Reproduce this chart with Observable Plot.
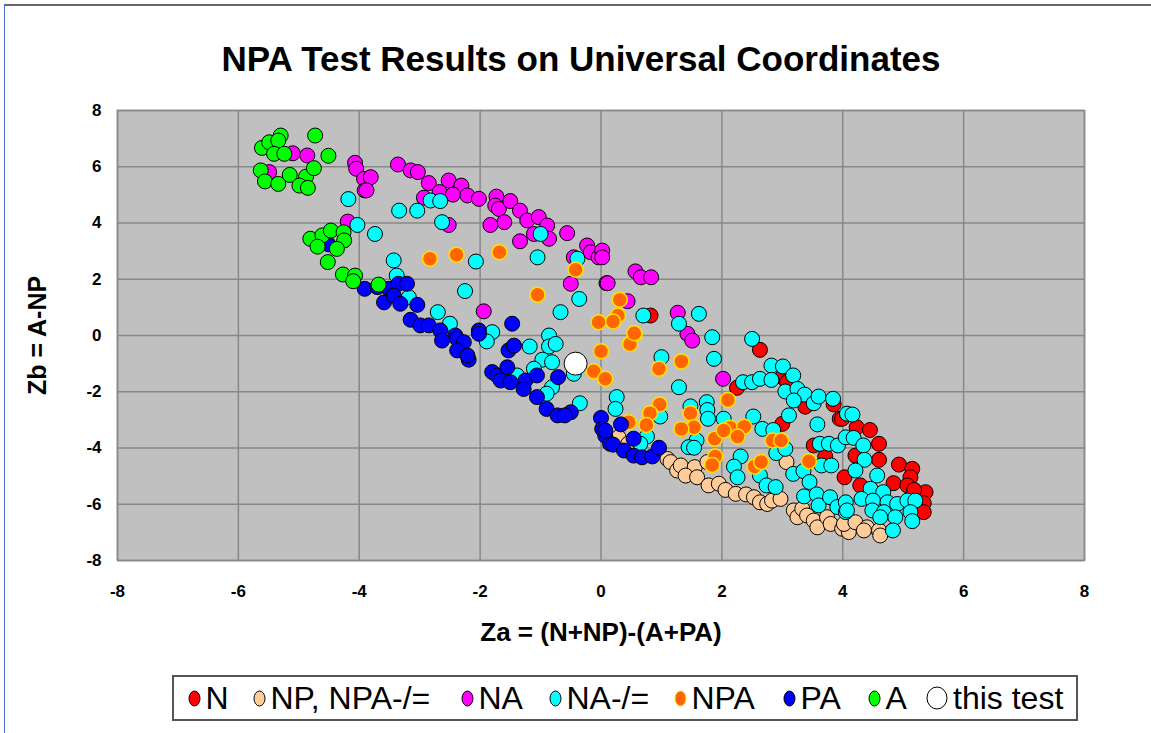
<!DOCTYPE html>
<html><head><meta charset="utf-8">
<script src="https://cdn.jsdelivr.net/npm/d3@7"></script>
<script src="https://cdn.jsdelivr.net/npm/@observablehq/plot@0.6"></script>
<style>
body{margin:0;background:#fff;font-family:"Liberation Sans",Arial,sans-serif;}
#wrap{position:relative;width:1151px;height:733px;overflow:hidden;}
#frameTop{position:absolute;left:4px;top:4px;width:1147px;height:0;border-top:2px solid #666;}
#frameLeft{position:absolute;left:4px;top:4px;width:0;height:729px;border-left:1.5px solid #4a6fd0;}
#chart{position:absolute;left:0;top:0;}
#legend{position:absolute;left:172px;top:675px;width:902px;height:42px;border:2px solid #555;font-size:32px;color:#000;box-sizing:content-box;}
#legend .mk{position:absolute;}
#legend .tx{position:absolute;top:50%;transform:translateY(-50%);white-space:nowrap;line-height:1;}
</style></head>
<body><div id="wrap"><div id="chart"></div><div id="frameTop"></div><div id="frameLeft"></div><div id="legend"></div></div>
<script>
const seriesNames = ["N","NP, NPA-/=","NA","NA-/=","NPA","PA","A","this test"];
const seriesFill = ["#FF0000","#FFCC99","#FF00FF","#00FFFF","#FF6600","#0000FF","#00FF00","#FFFFFF"];
const seriesStroke = ["#000","#000","#000","#000","#FFE000","#000","#000","#000"];
const xTicks = [-8,-6,-4,-2,0,2,4,6,8];
const yTicks = [-8,-6,-4,-2,0,2,4,6,8];

const N_pts = [[2.63,-0.51],[2.25,-1.86],[3.00,-1.48],[3.08,-1.66],[3.00,-3.14],[3.85,-2.45],[3.38,-2.53],[3.95,-2.96],[3.52,-3.91],[3.71,-4.30],[4.03,-5.04],[0.82,0.71],[3.99,-2.96],[4.23,-3.26],[4.45,-3.36],[4.60,-3.85],[4.60,-4.42],[4.21,-4.27],[4.93,-4.59],[5.15,-4.74],[5.12,-5.04],[4.84,-5.25],[5.07,-5.33],[5.37,-5.57],[5.18,-5.49],[5.34,-5.96],[5.34,-6.28],[4.29,-5.33]];
const NP_pts = [[0.29,-3.62],[0.45,-3.85],[1.10,-4.39],[1.15,-4.50],[1.26,-4.80],[1.32,-4.62],[1.55,-4.68],[1.40,-4.98],[1.59,-5.04],[1.76,-4.50],[1.78,-5.33],[1.95,-5.27],[2.06,-5.49],[2.23,-5.63],[2.40,-5.65],[2.53,-5.75],[2.63,-5.93],[2.75,-5.99],[2.83,-5.87],[2.97,-5.81],[3.07,-4.50],[3.19,-6.22],[3.25,-6.46],[3.33,-6.16],[3.41,-6.40],[3.52,-6.58],[3.58,-6.82],[3.74,-6.46],[3.80,-6.70],[3.99,-6.87],[4.10,-6.99],[4.02,-6.70],[4.21,-6.64],[4.40,-6.82],[4.60,-6.93],[4.62,-7.11],[4.35,-6.93]];
const NA_pts = [[-5.10,6.48],[-4.86,6.40],[-4.07,6.14],[-4.05,5.93],[-3.92,5.57],[-3.91,5.16],[-5.49,5.81],[-4.19,4.05],[-3.36,6.08],[-3.15,5.87],[-3.03,5.81],[-3.81,5.63],[-3.88,5.16],[-2.85,5.42],[-2.52,5.51],[-2.31,5.33],[-2.67,5.10],[-2.45,5.01],[-2.21,4.98],[-2.02,4.86],[-2.93,4.90],[-1.73,4.94],[-1.75,4.62],[-1.69,4.50],[-1.50,4.78],[-1.34,4.44],[-1.22,4.09],[-1.03,4.21],[-1.60,4.03],[-1.83,3.93],[-0.89,3.91],[-1.11,3.61],[-0.86,3.44],[-1.34,3.35],[-0.56,3.64],[-2.52,3.93],[-0.23,3.20],[-0.17,2.96],[-0.04,2.78],[-0.45,2.78],[-0.50,1.84],[0.09,1.86],[-1.94,0.86],[0.02,3.02],[0.02,2.78],[0.57,2.28],[0.66,2.07],[0.83,2.07],[0.11,1.86],[0.44,1.22],[1.27,0.81],[1.43,0.06],[1.51,-0.18],[2.02,-1.54]];
const NAeq_pts = [[-4.18,4.85],[-4.03,3.93],[-2.82,4.80],[-2.66,4.78],[-3.34,4.44],[-3.04,4.44],[-2.63,4.03],[-1.00,3.61],[-3.74,3.61],[-3.43,2.67],[-2.07,2.63],[-1.05,2.78],[-0.39,2.73],[-2.25,1.58],[-3.38,2.13],[-3.18,1.36],[-0.36,1.30],[-0.67,0.83],[-2.70,0.83],[-2.50,0.42],[-1.80,0.12],[-0.86,0.0],[-1.89,-0.21],[-1.18,-0.39],[-0.86,-0.39],[-0.75,-0.30],[-0.97,-0.86],[-0.81,-0.95],[-1.11,-1.18],[-1.39,-1.42],[-0.81,-1.84],[-0.90,-2.07],[-0.35,-2.41],[-0.45,-1.36],[0.70,0.71],[1.62,0.77],[1.29,0.42],[1.84,-0.06],[2.50,-0.12],[1.00,-0.77],[1.87,-0.83],[1.29,-1.84],[2.82,-1.07],[3.01,-1.10],[3.18,-1.42],[2.35,-1.66],[2.50,-1.66],[2.63,-1.54],[2.82,-1.58],[3.05,-1.99],[3.25,-1.90],[3.37,-2.10],[3.19,-2.31],[3.52,-2.41],[3.60,-2.17],[3.84,-2.25],[0.26,-2.19],[0.24,-2.61],[1.75,-2.37],[1.76,-2.65],[1.77,-2.96],[1.48,-2.52],[0.98,-2.88],[0.76,-3.59],[0.65,-3.85],[2.03,-2.96],[2.52,-2.88],[3.11,-2.84],[3.58,-3.16],[2.67,-3.32],[2.85,-3.36],[1.58,-3.73],[1.45,-3.97],[1.54,-3.99],[2.90,-4.18],[3.05,-4.03],[3.62,-3.85],[3.77,-3.85],[3.92,-3.91],[2.31,-4.30],[2.20,-4.66],[2.26,-5.04],[2.63,-4.98],[2.74,-5.33],[2.89,-5.39],[3.18,-4.92],[3.35,-4.82],[3.45,-5.21],[3.65,-4.62],[3.81,-4.62],[3.36,-5.72],[3.57,-5.65],[3.60,-6.04],[3.79,-5.75],[3.91,-6.10],[4.05,-5.93],[4.05,-6.28],[4.07,-2.78],[4.16,-2.81],[4.05,-3.62],[4.18,-3.64],[4.34,-3.91],[4.36,-4.42],[4.21,-4.80],[4.57,-4.98],[4.46,-5.45],[4.67,-5.57],[4.31,-5.81],[4.50,-5.87],[4.74,-5.93],[4.90,-5.99],[5.07,-5.87],[5.20,-5.87],[4.07,-6.22],[4.49,-6.22],[4.68,-6.28],[4.87,-6.46],[5.12,-6.28],[4.62,-6.46],[5.15,-6.60],[4.83,-6.93]];
const NPA_pts = [[-2.83,2.73],[-2.39,2.87],[-1.68,2.96],[-0.42,2.34],[-1.05,1.45],[-0.04,0.47],[0.00,-0.56],[-0.12,-1.27],[0.07,-1.54],[0.56,0.04],[0.48,-0.30],[1.33,-0.92],[0.96,-1.18],[2.10,-2.29],[0.97,-2.45],[0.81,-2.76],[0.75,-3.18],[0.46,-3.08],[1.48,-2.76],[1.54,-3.26],[1.33,-3.32],[1.88,-3.67],[2.14,-3.28],[2.03,-3.38],[2.37,-3.24],[2.26,-3.59],[1.89,-4.30],[1.84,-4.60],[2.54,-4.66],[2.65,-4.50],[2.84,-3.73],[2.98,-3.73],[3.44,-4.47],[0.31,1.27],[0.28,0.71],[0.20,0.50],[0.55,0.08]];
const PA_pts = [[-4.51,3.24],[-3.91,1.66],[-3.70,1.72],[-3.51,1.66],[-3.35,1.84],[-3.21,1.84],[-3.59,1.18],[-3.43,1.42],[-3.32,1.13],[-3.04,1.09],[-3.15,0.56],[-2.99,0.36],[-2.85,0.36],[-2.66,0.18],[-1.47,0.42],[-2.02,0.18],[-2.41,0.0],[-2.63,-0.18],[-2.38,-0.12],[-2.27,-0.24],[-2.38,-0.53],[-2.19,-0.86],[-2.21,-0.71],[-2.02,0.06],[-1.53,-0.53],[-1.44,-0.36],[-1.80,-1.30],[-1.72,-1.42],[-1.55,-1.13],[-1.66,-1.60],[-1.50,-1.66],[-1.25,-1.60],[-1.28,-1.90],[-1.06,-1.42],[-1.06,-2.19],[-0.71,-1.48],[-0.90,-2.61],[-0.72,-2.84],[-0.50,-2.73],[-0.60,-2.84],[0.00,-2.93],[0.02,-3.32],[0.07,-3.56],[0.15,-3.85],[0.07,-3.38],[0.33,-3.16],[0.20,-3.88],[0.38,-4.09],[0.54,-3.67],[0.54,-4.27],[0.68,-4.33],[0.85,-4.30],[0.96,-3.99]];
const A_pts = [[-4.73,7.11],[-5.61,6.67],[-5.49,6.87],[-5.30,7.11],[-5.34,6.93],[-5.41,6.46],[-5.24,6.46],[-4.51,6.39],[-5.63,5.87],[-5.56,5.48],[-5.34,5.39],[-5.15,5.71],[-4.88,5.65],[-4.75,5.95],[-4.99,5.33],[-4.85,5.25],[-4.81,3.44],[-4.61,3.56],[-4.47,3.73],[-4.26,3.67],[-4.25,3.38],[-4.69,3.16],[-4.37,3.08],[-4.52,2.61],[-4.27,2.17],[-4.07,2.13],[-4.10,1.93],[-3.68,1.81]];
const THIS_pts = [[-0.42,-1.0]];

const seriesData = [N_pts, NP_pts, NA_pts, NAeq_pts, NPA_pts, PA_pts, A_pts, THIS_pts];
const rows = [];
seriesData.forEach((pts, i) => pts.forEach(([x, y]) => rows.push({x, y, s: i})));

const marks = [
  Plot.frame({fill: "#C0C0C0"}),
  Plot.gridX(xTicks, {stroke: "#888", strokeOpacity: 1, strokeWidth: 1.5}),
  Plot.gridY(yTicks, {stroke: "#888", strokeOpacity: 1, strokeWidth: 1.5}),
  Plot.frame({stroke: "#888", strokeWidth: 1.5}),
  Plot.axisX(xTicks, {tickSize: 0, tickPadding: 24, fontSize: 17, fontWeight: "bold", label: null, tickFormat: d => `${d}`}),
  Plot.axisY(yTicks, {tickSize: 0, tickPadding: 16, fontSize: 17, fontWeight: "bold", label: null, tickFormat: d => `${d}`})
];
seriesData.forEach((pts, i) => {
  marks.push(Plot.dot(rows.filter(r => r.s === i), {
    x: "x", y: "y", r: i === 7 ? 11.5 : 7.5,
    fill: seriesFill[i], stroke: seriesStroke[i], strokeWidth: i === 4 ? 1.5 : 1, fillOpacity: 1
  }));
});
marks.push(Plot.text(["NPA Test Results on Universal Coordinates"], {frameAnchor: "top", dy: -51, dx: -20, fontSize: 35, fontWeight: "bold", fill: "#000", lineAnchor: "middle"}));
marks.push(Plot.text(["Za = (N+NP)-(A+PA)"], {frameAnchor: "bottom", dy: 72, fontSize: 26, fontWeight: "bold", fill: "#000", lineAnchor: "middle"}));
marks.push(Plot.text(["Zb = A-NP"], {frameAnchor: "left", dx: -80, rotate: -90, textAnchor: "middle", fontSize: 25, fontWeight: "bold", fill: "#000", lineAnchor: "middle"}));

const chart = Plot.plot({
  width: 1151, height: 660,
  marginLeft: 117, marginRight: 67, marginTop: 110, marginBottom: 100,
  style: {fontFamily: "'Liberation Sans', Arial, sans-serif", color: "#000", background: "transparent", overflow: "visible"},
  x: {domain: [-8, 8]},
  y: {domain: [-8, 8]},
  marks
});
document.getElementById("chart").appendChild(chart);

// legend layout: marker centres (px from legend box left)
const legendMarkerX = [20, 85, 293, 381, 506, 615, 700, 763];
const legend = document.getElementById("legend");
seriesNames.forEach((name, i) => {
  const big = i === 7;
  const w = big ? 20 : 11, h = big ? 22 : 15;
  const mk = document.createElement("div");
  mk.className = "mk";
  mk.style.left = (legendMarkerX[i] - (w + 2) / 2) + "px";
  mk.style.top = (21 - (h + 2) / 2) + "px";
  mk.innerHTML = `<svg width="${w + 2}" height="${h + 2}" style="display:block"><ellipse cx="${(w + 2) / 2}" cy="${(h + 2) / 2}" rx="${w / 2}" ry="${h / 2}" fill="${seriesFill[i]}" stroke="${seriesStroke[i]}" stroke-width="1"/></svg>`;
  legend.appendChild(mk);
  const tx = document.createElement("div");
  tx.className = "tx";
  tx.style.left = (legendMarkerX[i] + w / 2 + 6) + "px";
  tx.textContent = name;
  legend.appendChild(tx);
});
</script></body></html>
